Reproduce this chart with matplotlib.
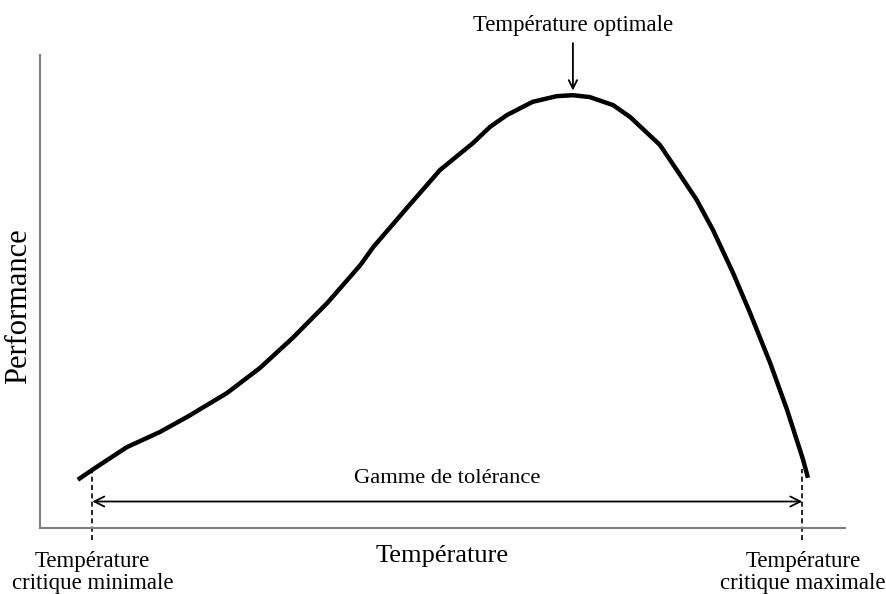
import numpy as np
import matplotlib.pyplot as plt

# courbe de performance (unités arbitraires, 0-100)
temperature = [4.7, 6.5, 10.8, 14.9, 18.3, 23.2, 27.3, 31.4, 35.7, 39.8, 41.4,
               45.6, 49.7, 53.8, 55.9, 58.0, 61.2, 64.2, 66.2, 68.3, 71.2, 73.3,
               77.0, 79.1, 81.6, 83.6, 86.1, 88.2, 90.7, 92.8, 94.8, 95.4]
performance = [10.2, 12.3, 17.1, 20.3, 23.5, 28.5, 33.8, 40.2, 47.6, 55.6, 59.4,
               67.7, 75.7, 81.4, 84.8, 87.3, 90.1, 91.3, 91.5, 91.1, 89.4, 86.9,
               81.0, 75.7, 69.3, 63.0, 53.9, 45.5, 34.9, 25.0, 14.4, 10.6]
t_min = 6.5
t_max = 94.7
t_opt = 66.2
perf_opt = 91.5

plt.rcParams['font.family'] = ['Liberation Serif', 'DejaVu Serif']

fig = plt.figure(figsize=(8.87, 5.94), dpi=100)
ax = fig.add_axes([40/887, 66/594, 805/887, 473/594])
ax.set_xlim(0, 100)
ax.set_ylim(0, 100)

ax.plot(temperature, performance, color='black', lw=3.2,
        solid_capstyle='butt', solid_joinstyle='round')

# lignes pointillées aux températures critiques
for t in [t_min, t_max]:
    ax.plot([t, t], [-2.5, 12.5], color='black', lw=1.2, ls=(0, (3, 2)),
            clip_on=False)

# gamme de tolérance
ax.annotate('', xy=(t_min, 5.6), xytext=(t_max, 5.6),
            arrowprops=dict(arrowstyle='<->', color='black', lw=1.3,
                            mutation_scale=18, shrinkA=0, shrinkB=0))
ax.text((t_min + t_max) / 2, 8.5, 'Gamme de tolérance', ha='center', va='bottom',
        fontsize=16.2)

# température optimale
ax.annotate('Température optimale', xy=(t_opt, perf_opt + 1), xytext=(t_opt, 104.0),
            ha='center', va='bottom', fontsize=16.4, annotation_clip=False,
            arrowprops=dict(arrowstyle='->', color='black', lw=1.3,
                            mutation_scale=15, shrinkA=3, shrinkB=0))

ax.text(t_min, -4.8, 'Température\ncritique minimale', ha='center', va='top',
        fontsize=16.5, linespacing=1.05)
ax.text(t_max + 0.1, -4.8, 'Température\ncritique maximale', ha='center', va='top',
        fontsize=16.5, linespacing=1.05)

ax.set_xlabel('Température', fontsize=19)
ax.set_ylabel('Performance', fontsize=22)
ax.xaxis.set_label_coords(0.5, -0.035, transform=ax.transAxes)
ax.xaxis.label.set_va('top')
ax.yaxis.set_label_coords(-0.009, 0.47, transform=ax.transAxes)

ax.set_xticks([])
ax.set_yticks([])
for side in ['top', 'right']:
    ax.spines[side].set_visible(False)
for side in ['left', 'bottom']:
    ax.spines[side].set_color('#808080')
    ax.spines[side].set_linewidth(1.5)

fig.savefig('out.png', dpi=100)
